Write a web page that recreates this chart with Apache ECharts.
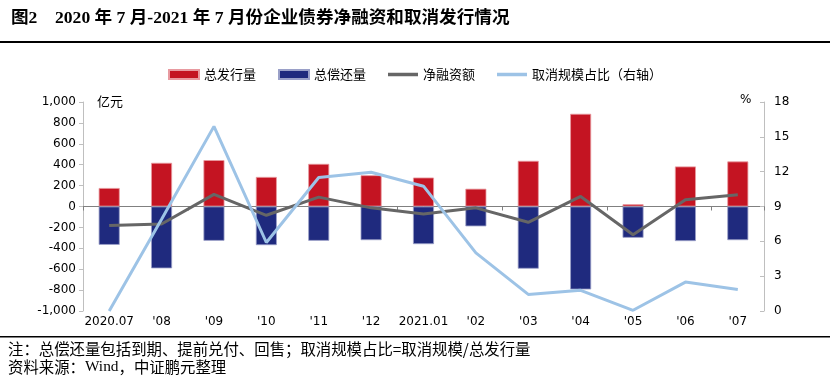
<!DOCTYPE html>
<html><head><meta charset="utf-8">
<script src="https://cdn.jsdelivr.net/npm/echarts@6/dist/echarts.min.js"></script>
<style>html,body{margin:0;padding:0;background:#fff}#c{width:830px;height:381px}</style>
</head><body><div id="c"></div>
<script>
const categories = ["2020.07","'08","'09","'10","'11","'12","2021.01","'02","'03","'04","'05","'06","'07"];
const issuance = [177, 418, 444, 283, 408, 299, 277, 170, 437, 887, 22, 383, 431];
const repayment = [-367, -592, -328, -370, -328, -322, -360, -190, -595, -794, -299, -331, -322];
const netFinancing = [-183, -167, 116, -84, 90, -13, -71, -13, -151, 96, -270, 64, 113];
const cancelRatio = [0, 7.9, 15.9, 5.9, 11.5, 11.95, 10.75, 5.0, 1.43, 1.78, 0.06, 2.49, 1.86];
const leftTicks = [-1000, 1000, 200];
const rightTicks = [0, 18, 3];

const chart = echarts.init(document.getElementById('c'));
const lblFont = '"DejaVu Sans","Noto Sans CJK SC",sans-serif';
const cjk = '"Noto Sans CJK SC",sans-serif';
const lineIcon = 'path://M0,0 L30,0 L30,3.5 L0,3.5 Z';
chart.setOption({
  animation: false,
  backgroundColor: '#fff',
  legend: {
    top: 63, left: 'center', itemGap: 22, itemWidth: 30, itemHeight: 9,
    textStyle: {fontSize: 13, color: '#000', fontFamily: cjk},
    data: [
      {name: '总发行量', icon: 'rect'},
      {name: '总偿还量', icon: 'rect'},
      {name: '净融资额', icon: lineIcon},
      {name: '取消规模占比（右轴）', icon: lineIcon}
    ]
  },
  grid: {left: 83, right: 66, top: 102, bottom: 70},
  xAxis: [
    {type: 'category', data: categories, boundaryGap: true,
     axisLine: {onZero: true, lineStyle: {color: '#808080', width: 1}},
     axisTick: {show: true, length: 4, lineStyle: {color: '#808080'}},
     axisLabel: {show: false}},
    {type: 'category', data: categories, position: 'bottom', boundaryGap: true,
     axisLine: {show: false}, axisTick: {show: false},
     axisLabel: {color: '#000', fontSize: 12, fontFamily: lblFont, margin: 5, interval: 0}}
  ],
  yAxis: [
    {type: 'value', min: leftTicks[0], max: leftTicks[1], interval: leftTicks[2],
     axisLine: {show: true, lineStyle: {color: '#bfbfbf'}},
     axisTick: {show: true, length: 4, lineStyle: {color: '#bfbfbf'}},
     splitLine: {show: false},
     axisLabel: {color: '#000', fontSize: 12, fontFamily: lblFont, margin: 7,
       formatter: v => v.toLocaleString('en-US')}},
    {type: 'value', min: rightTicks[0], max: rightTicks[1], interval: rightTicks[2],
     axisLine: {show: true, lineStyle: {color: '#bfbfbf'}},
     axisTick: {show: true, length: 4, inside: true, lineStyle: {color: '#bfbfbf'}},
     splitLine: {show: false},
     axisLabel: {color: '#000', fontSize: 12, fontFamily: lblFont, margin: 10}}
  ],
  series: [
    {name: '总发行量', type: 'bar', stack: 'a', data: issuance, barWidth: 21,
     itemStyle: {color: '#C41422', borderColor: '#e89aa0', borderWidth: 0.8}},
    {name: '总偿还量', type: 'bar', stack: 'a', data: repayment, barWidth: 21,
     itemStyle: {color: '#1F2A7E', borderColor: '#9aa0c8', borderWidth: 0.8}},
    {name: '净融资额', type: 'line', data: netFinancing, symbol: 'none',
     lineStyle: {color: '#666666', width: 3}, itemStyle: {color: '#666666'}},
    {name: '取消规模占比（右轴）', type: 'line', yAxisIndex: 1, data: cancelRatio, symbol: 'none',
     lineStyle: {color: '#9DC3E6', width: 3}, itemStyle: {color: '#9DC3E6'}}
  ],
  graphic: [
    {type: 'text', left: 11, top: 10, style: {text: '图2    2020 年 7 月-2021 年 7 月份企业债券净融资和取消发行情况',
      font: 'bold 17.6px "Liberation Serif","Noto Sans CJK SC",serif', fill: '#000'}},
    {type: 'rect', shape: {x: 0, y: 41, width: 830, height: 2}, style: {fill: '#000'}},
    {type: 'rect', shape: {x: 0, y: 336, width: 830, height: 1.5}, style: {fill: '#000'}},
    {type: 'text', left: 97, top: 95, style: {text: '亿元', font: '13px ' + cjk, fill: '#000'}},
    {type: 'text', left: 740, top: 94, style: {text: '%', font: '12px ' + lblFont, fill: '#000'}},
    {type: 'text', left: 8, top: 341, style: {text: '注：总偿还量包括到期、提前兑付、回售；取消规模占比=取消规模/总发行量', font: '15.4px ' + cjk, fill: '#000'}},
    {type: 'text', left: 8, top: 359, style: {text: '资料来源：{w|Wind}，中证鹏元整理', font: '15.4px ' + cjk, fill: '#000',
      rich: {w: {fontFamily: '"Liberation Serif",serif', fontSize: 15.4}}}}
  ]
});
</script></body></html>
